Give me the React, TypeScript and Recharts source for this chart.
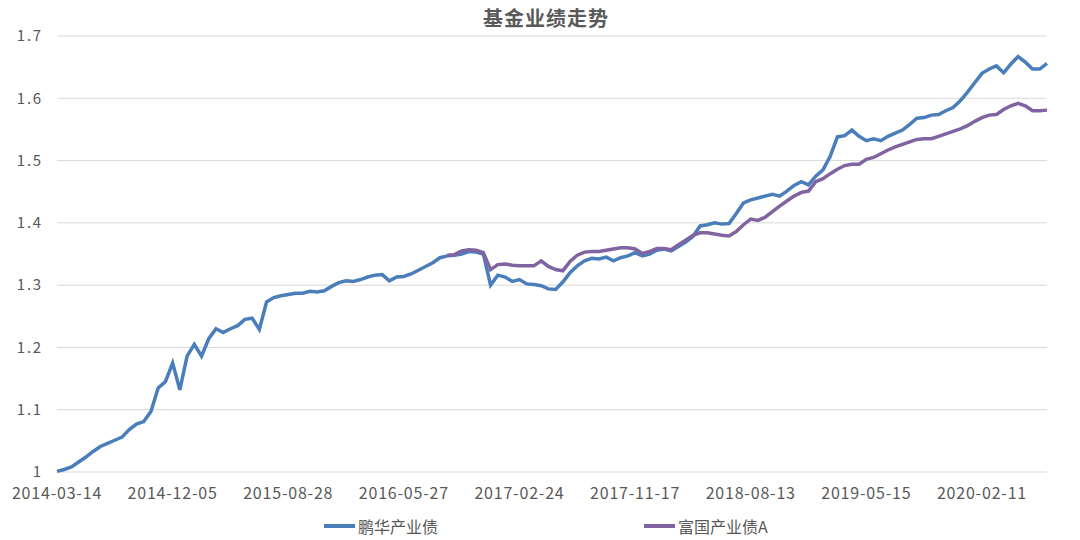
import React from 'react';
import { LineChart, Line, XAxis, YAxis, CartesianGrid } from 'recharts';

const title = '基金业绩走势';
const seriesNames = ['鹏华产业债', '富国产业债A'];
const tickLabels = [
  '2014-03-14', '2014-12-05', '2015-08-28', '2016-05-27', '2017-02-24',
  '2017-11-17', '2018-08-13', '2019-05-15', '2020-02-11',
];
const yTicks = [1, 1.1, 1.2, 1.3, 1.4, 1.5, 1.6, 1.7];

const penghua = [
  1.001, 1.004, 1.008, 1.016, 1.024, 1.033, 1.041, 1.046, 1.051, 1.056,
  1.068, 1.077, 1.081, 1.097, 1.135, 1.145, 1.175, 1.132, 1.186, 1.205,
  1.186, 1.214, 1.230, 1.224, 1.230, 1.235, 1.245, 1.247, 1.229, 1.273,
  1.280, 1.283, 1.285, 1.287, 1.287, 1.290, 1.289, 1.291, 1.298, 1.304,
  1.307, 1.306, 1.309, 1.313, 1.316, 1.317, 1.307, 1.313, 1.314, 1.318,
  1.324, 1.330, 1.336, 1.344, 1.347, 1.348, 1.350, 1.354, 1.353, 1.350,
  1.300, 1.316, 1.313, 1.306, 1.309, 1.302, 1.301, 1.299, 1.294, 1.293,
  1.305, 1.320, 1.331, 1.339, 1.343, 1.342, 1.345, 1.339, 1.344, 1.347,
  1.352, 1.347, 1.350, 1.356, 1.358, 1.355, 1.362, 1.369, 1.378, 1.395,
  1.397, 1.400, 1.398, 1.399, 1.415, 1.432, 1.437, 1.440, 1.443, 1.446,
  1.443, 1.451, 1.460, 1.466, 1.461, 1.475, 1.485, 1.507, 1.538, 1.540,
  1.549, 1.539, 1.532, 1.535, 1.532, 1.539, 1.544, 1.549, 1.558, 1.568,
  1.569, 1.573, 1.574, 1.580, 1.585, 1.596, 1.610, 1.625, 1.640, 1.647,
  1.652, 1.641, 1.655, 1.667, 1.658, 1.647, 1.647, 1.656,
];

const fuguoStart = 54;
const fuguo = [
  1.348, 1.349, 1.355, 1.357, 1.356, 1.352,
  1.325, 1.333, 1.334, 1.332, 1.331, 1.331, 1.331, 1.339, 1.330, 1.325,
  1.323, 1.338, 1.348, 1.353, 1.354, 1.354, 1.356, 1.358, 1.360, 1.360,
  1.358, 1.351, 1.354, 1.359, 1.359, 1.357, 1.365, 1.372, 1.380, 1.384,
  1.384, 1.382, 1.380, 1.379, 1.386, 1.397, 1.406, 1.404, 1.409, 1.418,
  1.427, 1.435, 1.443, 1.449, 1.451, 1.466, 1.471, 1.479, 1.486, 1.492,
  1.494, 1.494, 1.502, 1.505, 1.511, 1.517, 1.522, 1.526, 1.530, 1.534,
  1.535, 1.535, 1.539, 1.543, 1.547, 1.551, 1.556, 1.563, 1.569, 1.573,
  1.574, 1.582, 1.588, 1.592, 1.588, 1.580, 1.580, 1.581,
];

const STEP = 16;
const data = penghua.map((v, i) => ({
  i,
  penghua: v,
  fuguo: i >= fuguoStart ? fuguo[i - fuguoStart] : null,
}));
const xTicks = tickLabels.map((_, k) => k * STEP);

const BLUE = '#4a7ebb';
const PURPLE = '#8064a2';
const FONT = '"Noto Sans CJK SC", "Noto Sans", sans-serif';

export default function App() {
  return (
    <div style={{ position: 'absolute', left: 0, top: 0, width: 1080, height: 540, background: '#fff', fontFamily: FONT }}>
      <div style={{ position: 'absolute', left: 0, width: 1092, top: 4, textAlign: 'center', fontSize: 20, fontWeight: 'bold', color: '#595959', lineHeight: '28px', letterSpacing: 1 }}>
        {title}
      </div>
      <LineChart
        width={1080}
        height={540}
        data={data}
        margin={{ top: 36, right: 33, left: 0, bottom: 38 }}
      >
        <CartesianGrid vertical={false} stroke="#d9d9d9" strokeWidth={1} />
        <XAxis
          dataKey="i"
          type="number"
          domain={[0, penghua.length - 1]}
          ticks={xTicks}
          tickFormatter={(v) => tickLabels[Math.round(v / STEP)]}
          axisLine={false}
          tickLine={false}
          tickMargin={10}
          height={30}
          interval={0}
          tick={{ fill: '#595959', fontSize: 16, fontFamily: FONT, letterSpacing: 0.8 }}
        />
        <YAxis
          type="number"
          domain={[1, 1.7]}
          ticks={yTicks}
          tickFormatter={(v) => (v === 1 ? '1' : v.toFixed(1))}
          axisLine={false}
          tickLine={false}
          tickMargin={8}
          width={57}
          interval={0}
          tick={{ fill: '#595959', fontSize: 15, fontFamily: FONT, letterSpacing: 1.8 }}
        />
        <Line
          type="linear"
          dataKey="penghua"
          name={seriesNames[0]}
          stroke={BLUE}
          strokeWidth={3.5}
          dot={false}
          isAnimationActive={false}
        />
        <Line
          type="linear"
          dataKey="fuguo"
          name={seriesNames[1]}
          stroke={PURPLE}
          strokeWidth={3.5}
          dot={false}
          connectNulls={false}
          isAnimationActive={false}
        />
      </LineChart>
      {[
        { name: seriesNames[0], color: BLUE, left: 324 },
        { name: seriesNames[1], color: PURPLE, left: 644 },
      ].map((it) => (
        <div key={it.name} style={{ position: 'absolute', top: 515, left: it.left, display: 'flex', alignItems: 'center', height: 22 }}>
          <div style={{ width: 31, height: 4, background: it.color, marginRight: 3 }} />
          <span style={{ fontSize: 16, color: '#595959', lineHeight: '22px' }}>{it.name}</span>
        </div>
      ))}
    </div>
  );
}
